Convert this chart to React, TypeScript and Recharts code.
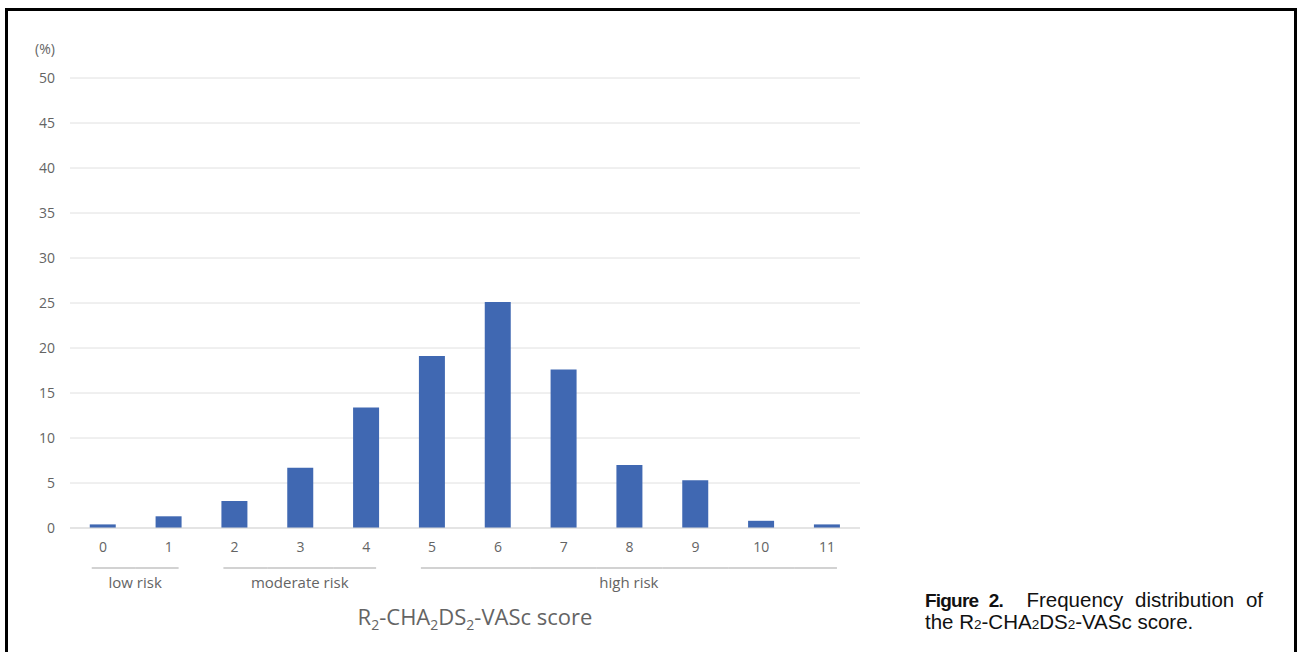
import { BarChart, Bar, XAxis, YAxis, CartesianGrid } from 'recharts';

const scores = ['0', '1', '2', '3', '4', '5', '6', '7', '8', '9', '10', '11'];
const percents = [0.4, 1.3, 3.0, 6.7, 13.4, 19.1, 25.1, 17.6, 7.0, 5.3, 0.8, 0.4];
const yTicks = [0, 5, 10, 15, 20, 25, 30, 35, 40, 45, 50];
const riskGroups = [
    { label: 'low risk', from: 0, to: 1 },
    { label: 'moderate risk', from: 2, to: 4 },
    { label: 'high risk', from: 5, to: 11 },
];

const data = scores.map((s, i) => ({ score: s, pct: percents[i] }));

const CHART_W = 880;
const CHART_H = 652;
const MARGIN = { top: 78, right: 20, bottom: 0, left: 20 };
const Y_W = 50;
const BAND = (CHART_W - MARGIN.left - MARGIN.right - Y_W) / scores.length;

const TEXT = '#646464';
const FONT = "'Open Sans', 'Noto Sans', sans-serif";

function GroupTick(props: any) {
    const { x, y, index } = props;
    const g = riskGroups.find(r => index >= r.from && index <= r.to);
    if (!g) return null;
    const left = index === g.from ? x - BAND * 0.17 : x - BAND / 2;
    const right = index === g.to ? x + BAND * 0.15 : x + BAND / 2;
    const lineY = y + 7;
    let label = null;
    if (index === g.from) {
        const start = x - BAND * 0.17;
        const end = x + (g.to - g.from) * BAND + BAND * 0.15;
        label = (
            <text x={(start + end) / 2} y={lineY + 20} textAnchor="middle" fill={TEXT} fontSize={15} fontFamily={FONT}>
                {g.label}
            </text>
        );
    }
    return (
        <g>
            <line x1={left} x2={right} y1={lineY} y2={lineY} stroke="#a6a6a6" strokeWidth={1.2} />
            {label}
        </g>
    );
}

function AxisTitle(props: any) {
    const { x, width } = props.viewBox;
    return (
        <text x={x + width / 2 + 10} y={625} textAnchor="middle" fill={TEXT} fontSize={22} fontFamily={FONT}>
            <tspan>R</tspan>
            <tspan fontSize={14} dy={5}>2</tspan>
            <tspan dy={-5}>-CHA</tspan>
            <tspan fontSize={14} dy={5}>2</tspan>
            <tspan dy={-5}>DS</tspan>
            <tspan fontSize={14} dy={5}>2</tspan>
            <tspan dy={-5}>-VASc score</tspan>
        </text>
    );
}

export default function App() {
    return (
        <div style={{ position: 'absolute', left: 0, top: 0, width: 1297, height: 652, background: '#fff', overflow: 'hidden' }}>
            <div style={{ position: 'absolute', left: 5, top: 8, width: 1286, height: 660, border: '3px solid #000' }} />
            <div style={{ position: 'absolute', left: 0, top: 0 }}>
                <BarChart width={CHART_W} height={CHART_H} data={data} margin={MARGIN} barCategoryGap="30%">
                    <CartesianGrid vertical={false} stroke="#e0e0e0" />
                    <XAxis
                        dataKey="score"
                        height={31}
                        interval={0}
                        tickSize={0}
                        tickMargin={14}
                        axisLine={{ stroke: '#d9d9d9' }}
                        tick={{ fill: TEXT, fontSize: 14, fontFamily: FONT }}
                    />
                    <XAxis
                        xAxisId="grp"
                        dataKey="score"
                        height={93}
                        interval={0}
                        tickSize={0}
                        axisLine={false}
                        tick={<GroupTick />}
                        label={{ content: <AxisTitle /> }}
                    />
                    <YAxis
                        width={Y_W}
                        domain={[0, 50]}
                        ticks={yTicks}
                        interval={0}
                        tickSize={0}
                        tickMargin={15}
                        axisLine={false}
                        tick={{ fill: TEXT, fontSize: 14, fontFamily: FONT }}
                        label={{ value: '(%)', position: 'top', offset: 24, fill: TEXT, fontSize: 14, fontFamily: FONT }}
                    />
                    <Bar dataKey="pct" fill="#4068b2" isAnimationActive={false} />
                </BarChart>
            </div>
            <div style={{ position: 'absolute', left: 925, top: 589, width: 338, fontFamily: "'Liberation Sans', Arial, sans-serif", fontSize: 20.5, lineHeight: '21px', color: '#111' }}>
                <div style={{ textAlign: 'justify', textAlignLast: 'justify' }}>
                    <span style={{ fontWeight: 900, fontSize: 19, letterSpacing: -0.8 }}>Figure 2.</span>
                    {' \u00a0Frequency distribution of'}
                </div>
                <div>
                    the R<span style={{ fontSize: 13.5 }}>2</span>-CHA<span style={{ fontSize: 13.5 }}>2</span>DS<span style={{ fontSize: 13.5 }}>2</span>-VASc score.
                </div>
            </div>
        </div>
    );
}
